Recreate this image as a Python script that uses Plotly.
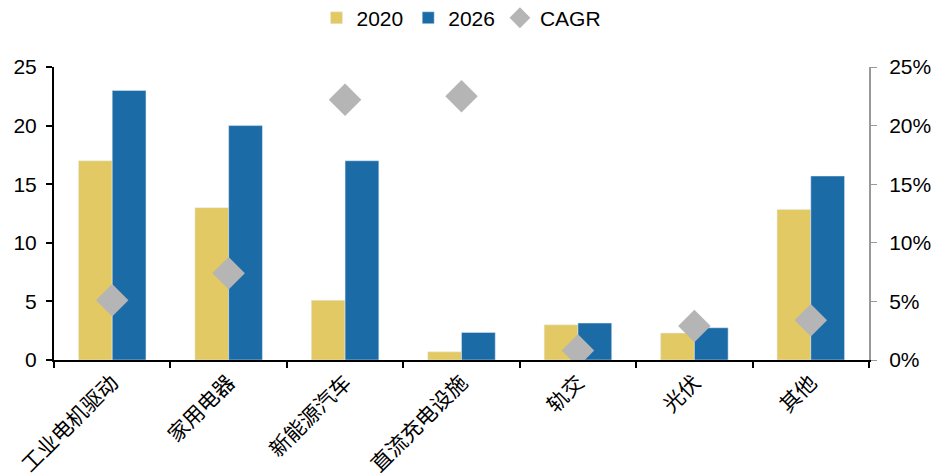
import plotly.graph_objects as go

categories = ["工业电机驱动", "家用电器", "新能源汽车", "直流充电设施", "轨交", "光伏", "其他"]
v2020 = [17.0, 13.0, 5.1, 0.7, 3.0, 2.3, 12.85]
v2026 = [23.0, 20.0, 17.0, 2.35, 3.15, 2.75, 15.7]
cagr = [0.051, 0.074, 0.222, 0.225, 0.008, 0.029, 0.034]

fig = go.Figure()
fig.add_trace(go.Bar(x=categories, y=v2020, name="2020", marker_color="#E3C964"))
fig.add_trace(go.Bar(x=categories, y=v2026, name="2026", marker_color="#1B6BA6"))
fig.add_trace(go.Scatter(x=categories, y=cagr, name="CAGR", mode="markers", yaxis="y2",
                         marker=dict(symbol="diamond", size=25, color="#B5B5B5")))

fig.update_layout(
    width=944, height=476,
    margin=dict(l=54, r=75, t=67, b=116, autoexpand=False),
    paper_bgcolor="white", plot_bgcolor="white",
    barmode="group", bargap=0.42, bargroupgap=0,
    font=dict(family="Liberation Sans, Arial", size=21, color="black"),
    legend=dict(orientation="h", x=0.5, xanchor="center", yref="container",
                y=0.962, yanchor="middle",
                font=dict(size=21), itemwidth=30, traceorder="normal",
                tracegroupgap=0),
    xaxis=dict(showline=True, linecolor="black", linewidth=2, ticks="outside",
               tickson="boundaries", ticklen=6, tickwidth=2, tickcolor="black",
               tickangle=-45, tickfont=dict(family="Noto Sans CJK SC", size=21),
               showgrid=False, automargin=False),
    yaxis=dict(range=[0, 25], dtick=5, showline=True, linecolor="black", linewidth=2,
               ticks="outside", ticklen=6, tickwidth=2, tickcolor="black",
               ticklabelstandoff=5,
               showgrid=False, zeroline=False, tickfont=dict(size=21), automargin=False),
    yaxis2=dict(range=[0, 0.25], dtick=0.05, tickformat=".0%", overlaying="y", side="right",
                showline=True, linecolor="#999999", linewidth=2, ticks="outside",
                ticklen=6, tickwidth=1, tickcolor="#999999", showgrid=False,
                ticklabelstandoff=8,
                zeroline=False, tickfont=dict(size=21), automargin=False),
)
fig.write_html("out.html")
